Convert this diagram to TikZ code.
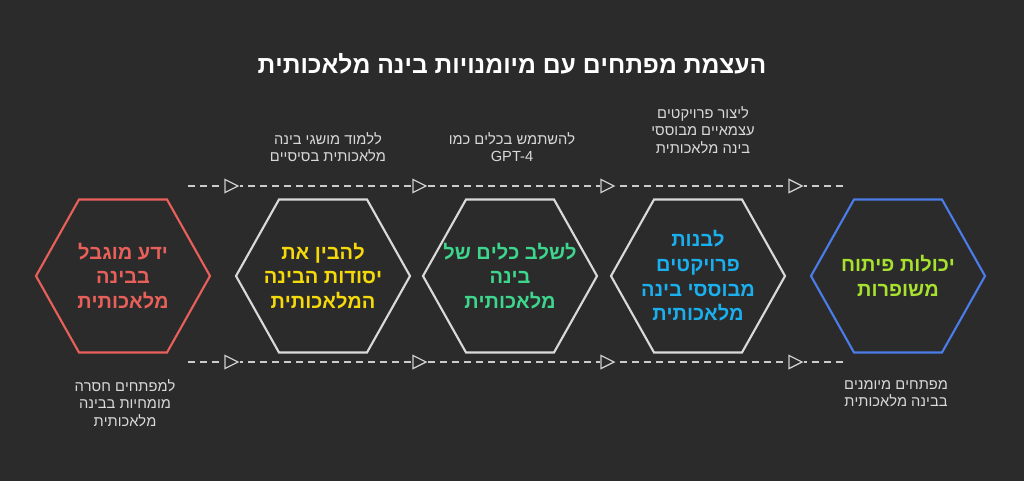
\documentclass[tikz,border=0pt]{standalone}
\usepackage{fontspec}
\setmainfont{Liberation Sans}
\TeXXeTstate=1
\begin{document}
\begin{tikzpicture}[x=0.75pt,y=-0.75pt,
  hexs/.style={line width=1.6pt},
  hext/.style={align=center,font=\fontsize{15}{18.5}\selectfont\bfseries},
  lab/.style={align=center,text=white!85!black,font=\fontsize{11}{13}\selectfont},
  dline/.style={draw=white!80!black,dashed,dash pattern=on 5pt off 4pt,line width=1pt},
  tri/.style={draw=white!80!black,line width=1pt}]
\definecolor{bg}{HTML}{2B2B2B}
\definecolor{cred}{HTML}{E8605A}
\definecolor{cyel}{HTML}{F5D90A}
\definecolor{cgrn}{HTML}{3DD68C}
\definecolor{cblu}{HTML}{1AB0F0}
\definecolor{cbst}{HTML}{4A7DE8}
\definecolor{clim}{HTML}{A6E22E}
\fill[bg] (0,0) rectangle (1024,481);
\useasboundingbox (0,0) rectangle (1024,481);
\node[text=white,font=\fontsize{18.5}{22}\selectfont\bfseries] (title) at (512,64) {\beginR העצמת מפתחים עם מיומנויות בינה מלאכותית\endR};
% dashed lines
\coordinate (ta) at (188,186); \coordinate (tb) at (845,186);
\coordinate (ba) at (188,362); \coordinate (bb) at (845,362);
\draw[dline] (ta) -- (tb);
\draw[dline] (ba) -- (bb);
\foreach \x in {231,419,607,795}{
  \foreach \y in {186,362}{
    \fill[bg] (\x-7,\y-8) rectangle (\x+9,\y+8);
    \draw[tri] (\x-6,\y-6.5) -- (\x+7,\y) -- (\x-6,\y+6.5) -- cycle;
  }}
% hexagons
\foreach \cx/\col in {123/cred,323/white!85!black,510/white!85!black,698/white!85!black,898/cbst}{
  \draw[hexs,draw=\col] (\cx-87,276) -- (\cx-44,199.5) -- (\cx+44,199.5) -- (\cx+87,276) -- (\cx+44,352.5) -- (\cx-44,352.5) -- cycle;
}
\node[hext,text=cred] (h1) at (123,276) {\beginR ידע מוגבל\endR\\\beginR בבינה\endR\\\beginR מלאכותית\endR};
\node[hext,text=cyel] (h2) at (323,276) {\beginR להבין את\endR\\\beginR יסודות הבינה\endR\\\beginR המלאכותית\endR};
\node[hext,text=cgrn] (h3) at (510,276) {\beginR לשלב כלים של\endR\\\beginR בינה\endR\\\beginR מלאכותית\endR};
\node[hext,text=cblu] (h4) at (698,276) {\beginR לבנות\endR\\\beginR פרויקטים\endR\\\beginR מבוססי בינה\endR\\\beginR מלאכותית\endR};
\node[hext,text=clim] (h5) at (898,276) {\beginR יכולות פיתוח\endR\\\beginR משופרות\endR};
% labels
\node[lab] (l2) at (328,147) {\beginR ללמוד מושגי בינה\endR\\\beginR מלאכותית בסיסיים\endR};
\node[lab] (l3) at (512,147) {\beginR להשתמש בכלים כמו\endR\\GPT-4};
\node[lab] (l4) at (703,130) {\beginR ליצור פרויקטים\endR\\\beginR עצמאיים מבוססי\endR\\\beginR בינה מלאכותית\endR};
\node[lab] (l1) at (125,403) {\beginR למפתחים חסרה\endR\\\beginR מומחיות בבינה\endR\\\beginR מלאכותית\endR};
\node[lab] (l5) at (896,394) {\beginR מפתחים מיומנים\endR\\\beginR בבינה מלאכותית\endR};
\end{tikzpicture}
\end{document}
